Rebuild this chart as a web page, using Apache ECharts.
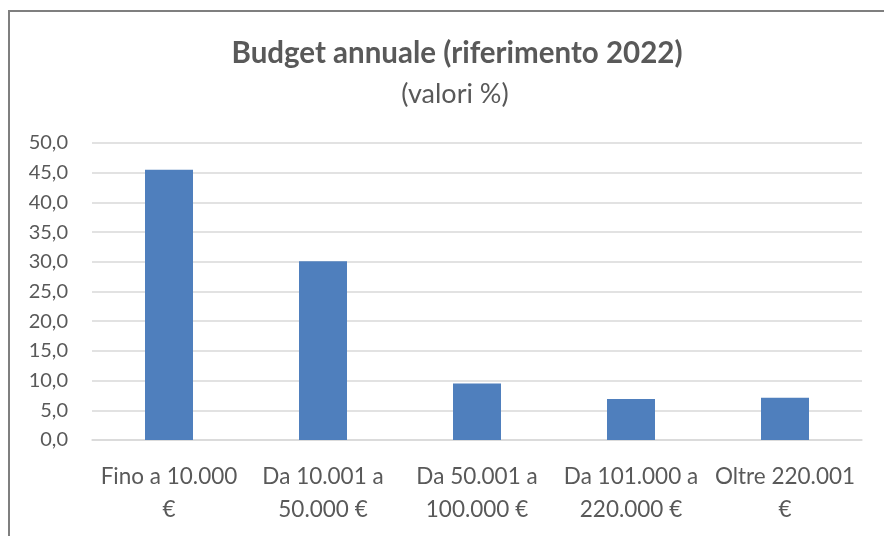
<!DOCTYPE html>
<html>
<head>
<meta charset="utf-8">
<script src="https://cdn.jsdelivr.net/npm/echarts@6/dist/echarts.min.js"></script>
<style>
  html, body { margin: 0; padding: 0; background: #fff; }
  #chart { width: 884px; height: 536px; }
</style>
</head>
<body>
<div id="chart"></div>
<script>
// fasce di budget e valori %
var categories = ['Fino a 10.000\n€', 'Da 10.001 a\n50.000 €', 'Da 50.001 a\n100.000 €', 'Da 101.000 a\n220.000 €', 'Oltre 220.001\n€']
var values = [45.5, 30.1, 9.5, 6.9, 7.1]
var yTicks = { min: 0, max: 50, interval: 5 }

var chart = echarts.init(document.getElementById('chart'))
var font = 'Lato, "Open Sans", sans-serif'

var option = {
  backgroundColor: '#fff',
  animation: false,
  graphic: [
    {
      type: 'rect',
      shape: { x: 9, y: 11, width: 900, height: 600 },
      style: { fill: 'none', stroke: '#7f7f7f', lineWidth: 2 },
    },
  ],
  title: [
    {
      text: 'Budget annuale (riferimento 2022)',
      left: 452,
      top: 33,
      textAlign: 'center',
      textStyle: { color: '#595959', fontSize: 29.5, fontWeight: 'bold', fontFamily: font },
    },
    {
      text: '(valori %)',
      left: 450,
      top: 76,
      textAlign: 'center',
      textStyle: { color: '#595959', fontSize: 27, fontWeight: 'normal', fontFamily: font },
    },
  ],
  grid: {
    left: 92,
    right: 22,
    top: 143,
    bottom: 96,
  },
  xAxis: {
    type: 'category',
    data: categories,
    axisTick: { show: false },
    axisLine: { lineStyle: { color: '#d9d9d9', width: 1.5 } },
    axisLabel: {
      color: '#595959',
      fontSize: 22.5,
      fontFamily: font,
      lineHeight: 33,
      margin: 20,
      interval: 0,
    },
  },
  yAxis: {
    type: 'value',
    min: yTicks.min,
    max: yTicks.max,
    interval: yTicks.interval,
    axisLine: { show: false },
    axisTick: { show: false },
    splitLine: { lineStyle: { color: '#d9d9d9', width: 1.5 } },
    axisLabel: {
      color: '#595959',
      fontSize: 20,
      fontFamily: font,
      margin: 24,
      formatter: function (v) {
        return v.toFixed(1).replace('.', ',')
      },
    },
  },
  series: [
    {
      type: 'bar',
      data: values,
      barWidth: 48,
      itemStyle: { color: '#4f7fbd' },
    },
  ],
}

chart.setOption(option)
</script>
</body>
</html>
